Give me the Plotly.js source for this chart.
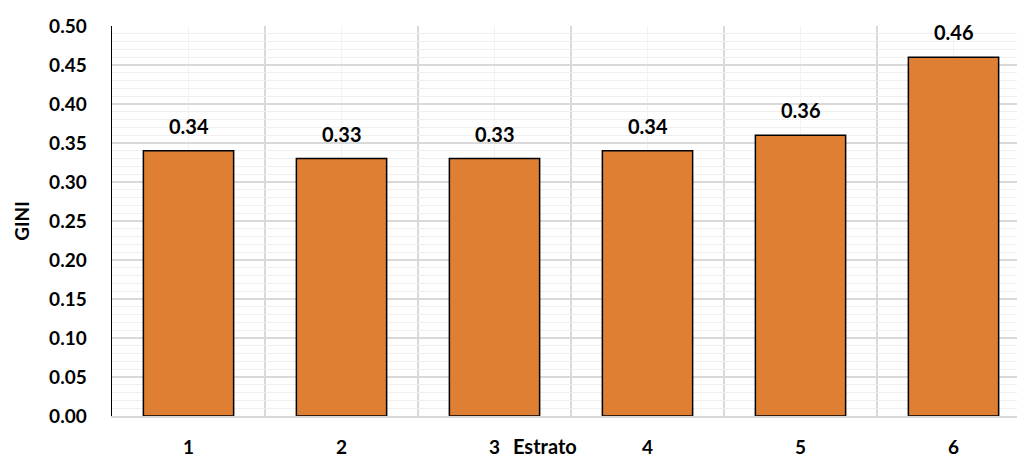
<!DOCTYPE html>
<html>
<head>
<meta charset="utf-8">
<script src="https://cdn.plot.ly/plotly-3.0.1.min.js"></script>
<style>html,body{margin:0;padding:0;background:#fff;}#chart{width:1017px;height:458px;}</style>
</head>
<body>
<div id="chart"></div>
<script>
const categories = [1, 2, 3, 4, 5, 6];
const giniValues = [0.34, 0.33, 0.33, 0.34, 0.36, 0.46];
const valueLabels = ["0.34", "0.33", "0.33", "0.34", "0.36", "0.46"];
const xTitle = "Estrato";
const yTitle = "GINI";

const FONT = "Lato, 'Open Sans', sans-serif";

const trace = {
  type: "bar",
  x: categories,
  y: giniValues,
  width: 0.59,
  marker: { color: "#DE7F33", line: { color: "#000000", width: 1.5 } },
  hoverinfo: "skip"
};

const annotations = categories.map((c, i) => ({
  x: c, y: giniValues[i], xref: "x", yref: "y",
  text: valueLabels[i], showarrow: false,
  yanchor: "middle", yshift: 25,
  font: { family: FONT, size: 20, color: "#000", weight: "bold" }
}));
annotations.push({
  xref: "paper", yref: "paper", x: 0.478, y: 0, yanchor: "middle", yshift: -30,
  borderpad: 0,
  text: xTitle, showarrow: false,
  font: { family: FONT, size: 20, color: "#000", weight: "bold" }
});

const layout = {
  width: 1017, height: 458,
  margin: { l: 112, r: 0, t: 26, b: 42 },
  paper_bgcolor: "#fff", plot_bgcolor: "#fff",
  showlegend: false,
  font: { family: FONT, color: "#000" },
  xaxis: {
    type: "linear",
    range: [0.5, 6.415],
    tickmode: "array", tickvals: categories,
    ticktext: categories.map(String),
    showgrid: true, gridcolor: "#f2f2f2", gridwidth: 1,
    minor: { dtick: 0.5, tick0: 0.5, showgrid: true, gridcolor: "#d9d9d9", gridwidth: 1.5 },
    ticks: "", ticklabelstandoff: 14,
    showline: true, linecolor: "#d9d9d9", linewidth: 1.5,
    zeroline: false, fixedrange: true,
    tickfont: { family: FONT, size: 19, color: "#000", weight: "bold" }
  },
  yaxis: {
    range: [0, 0.5], dtick: 0.05, tick0: 0, tickformat: ".2f",
    showgrid: true, gridcolor: "#d9d9d9", gridwidth: 1.5,
    minor: { dtick: 0.01, showgrid: true, gridcolor: "#efefef", gridwidth: 1 },
    showline: true, linecolor: "#000", linewidth: 1.5,
    zeroline: false, ticks: "", ticklabelstandoff: 20,
    tickfont: { family: FONT, size: 19, color: "#000", weight: "bold" },
    title: { text: yTitle, standoff: 14, font: { family: FONT, size: 19, color: "#000", weight: "bold" } },
    fixedrange: true
  },
  annotations: annotations
};

Plotly.newPlot("chart", [trace], layout, { displayModeBar: false, staticPlot: true });
</script>
</body>
</html>
